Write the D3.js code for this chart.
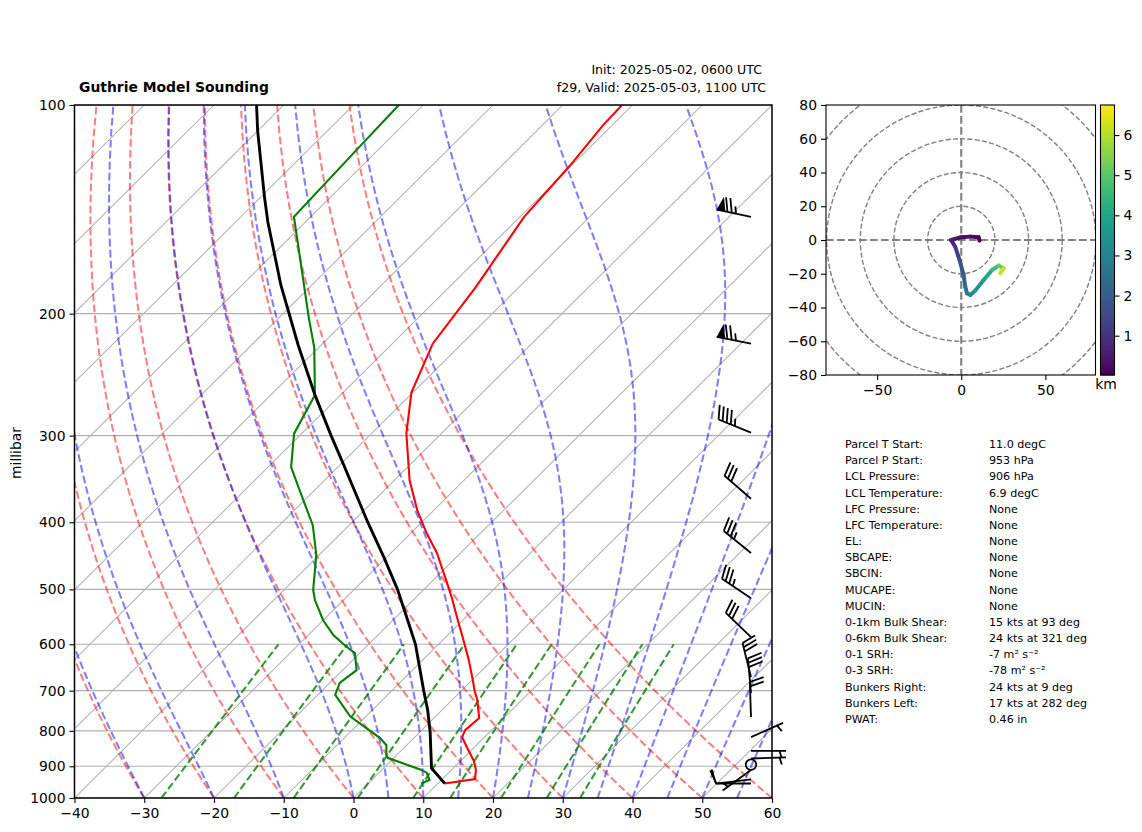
<!DOCTYPE html>
<html>
<head>
<meta charset="utf-8">
<script src="https://cdn.jsdelivr.net/npm/d3@7"></script>
<style>
  html, body { margin: 0; padding: 0; background: #fff; }
  svg { display: block; }
  text { font-family: "DejaVu Sans", sans-serif; fill: #000; }
</style>
</head>
<body>
<div id="chart"></div>
<script>
// sounding profile
var tempP = [953, 939, 911, 884, 847, 817, 798, 767, 722, 699, 676, 632, 592, 545, 515, 482, 443, 415, 385, 348, 298, 260, 221, 183, 145, 122.6, 107, 100];
var tempC = [11.0, 14.7, 13.5, 11.9, 9.1, 6.8, 6.2, 6.5, 3.6, 1.8, 0.1, -3.4, -7.0, -11.6, -14.7, -18.5, -23.4, -27.7, -32.3, -37.8, -45, -50.2, -54.2, -56.2, -59.4, -60.2, -61.3, -61.5];

var dewP = [953, 942, 920, 911, 875, 867, 839, 819, 763, 710, 682, 654, 618, 602, 582, 554, 518, 501, 446, 404, 366, 333, 298, 262, 224, 202, 145, 115.5, 100];
var dewC = [7.6, 8.3, 6.9, 5.7, -0.9, -1.5, -2.9, -4.9, -12.2, -17.5, -18.6, -18, -20.7, -23.3, -26.4, -30, -34.1, -35.8, -40.4, -45.2, -51.1, -56.7, -61.1, -63.7, -70.6, -75.9, -92.4, -93.1, -93.5];

var parcelP = [953, 906, 802, 746, 699, 600, 550, 500, 450, 400, 331, 300, 262, 222, 182, 147.5, 136, 109, 100];
var parcelC = [11.0, 6.9, 1.4, -2.1, -5.5, -13.3, -18.3, -23.8, -30.3, -37.75, -49.4, -55.5, -63.7, -73.3, -84.4, -95.4, -99.4, -110, -113.9];

// wind barbs: pressure, speed (kts), direction the wind comes from
var barbP = [145, 221, 297, 370, 443, 515, 586, 669, 706, 764, 817, 855, 877, 895, 911, 940, 953];
var barbSpeed = [75, 75, 45, 30, 35, 35, 30, 30, 30, 20, 5, 5, 5, 0, 5, 10, 10];
var barbDir = [282, 281, 292, 311, 309, 304, 314, 346, 355, 358, 66, 90, 88, 0, 234, 263, 270];

// hodograph
var hodoU = [10.9, 10.3, 5.4, -0.2, -4.6, -6.1, -3.6, -1, 1.4, 2.4, 3.4, 5.4, 8.3, 13.3, 18.3, 22.2, 25.2, 23.2];
var hodoV = [-0.4, 1.6, 2, 1.6, 0.4, 0, -4, -11.9, -20.7, -27.7, -31.6, -32.6, -30, -23.7, -17.8, -15.2, -16.8, -19.7];
var hodoKm = [0.02, 0.1, 0.2, 0.3, 0.4, 0.5, 1.0, 1.5, 2.0, 2.4, 2.7, 3.0, 3.3, 3.8, 4.3, 4.8, 5.6, 6.75];

// background lines
var isothermC = d3.range(-140, 70, 10);
var dryStartC = d3.range(-30, 70, 10);
var moistStartC = [-30, -20, -10, 0, 5, 10, 15, 20, 25, 30, 35, 40, 45, 50, 55];
var mixRatios = [0.0004, 0.001, 0.002, 0.004, 0.007, 0.01, 0.016, 0.024, 0.032];

var pressureTicks = [100, 200, 300, 400, 500, 600, 700, 800, 900, 1000];
var tempTicks = d3.range(-40, 70, 10);
var hodoXTicks = [-50, 0, 50];
var hodoYTicks = d3.range(-80, 100, 20);
var hodoRings = [20, 40, 60, 80, 100];
var kmTicks = [1, 2, 3, 4, 5, 6];

var statNames = ["Parcel T Start:", "Parcel P Start:", "LCL Pressure:", "LCL Temperature:", "LFC Pressure:", "LFC Temperature:", "EL:", "SBCAPE:", "SBCIN:", "MUCAPE:", "MUCIN:", "0-1km Bulk Shear:", "0-6km Bulk Shear:", "0-1 SRH:", "0-3 SRH:", "Bunkers Right:", "Bunkers Left:", "PWAT:"];
var statValues = ["11.0 degC", "953 hPa", "906 hPa", "6.9 degC", "None", "None", "None", "None", "None", "None", "None", "15 kts at 93 deg", "24 kts at 321 deg", "-7 m\u00B2 s\u207B\u00B2", "-78 m\u00B2 s\u207B\u00B2", "24 kts at 9 deg", "17 kts at 282 deg", "0.46 in"];

var svg = d3.select("#chart").append("svg")
    .attr("width", 1142)
    .attr("height", 832);

var left = 74.5, right = 772, top_ = 105, bottom = 798;
var skew = 1.0065;

var x = d3.scaleLinear().domain([-40, 60]).range([left, right]);
var y = d3.scaleLog().domain([1000, 100]).range([bottom, top_]);

// skewed position of a temperature at a pressure
function sx(t, p) { return x(t) + skew * (bottom - y(p)); }

var skewLine = d3.line().x(function(d) { return sx(d[0], d[1]); }).y(function(d) { return y(d[1]); });

svg.append("clipPath").attr("id", "clip").append("rect")
    .attr("x", left).attr("y", top_).attr("width", right - left).attr("height", bottom - top_);

var main = svg.append("g").attr("clip-path", "url(#clip)");

// isotherms and pressure grid
isothermC.forEach(function(t) {
    main.append("path").attr("d", skewLine([[t, 1000], [t, 100]]))
        .attr("fill", "none").attr("stroke", "#b0b0b0").attr("stroke-width", 1.05);
});
pressureTicks.forEach(function(p) {
    main.append("line").attr("x1", left).attr("x2", right).attr("y1", y(p)).attr("y2", y(p))
        .attr("stroke", "#b0b0b0").attr("stroke-width", 1.1);
});

var levels = d3.range(1000, 95, -10);

// dry adiabats
dryStartC.forEach(function(t0) {
    var pts = levels.map(function(p) { return [(t0 + 273.15) * Math.pow(p / 1000, 0.2857) - 273.15, p]; });
    main.append("path").attr("d", skewLine(pts))
        .attr("fill", "none").attr("stroke", "#ff0000").attr("stroke-opacity", 0.5)
        .attr("stroke-width", 2.08).attr("stroke-dasharray", "7.7,3.3");
});

function moistSlope(p, t) {
    var es = 6.112 * Math.exp(17.67 * (t - 273.15) / (t - 29.65));
    var rs = 0.622 * es / Math.max(p - es, 1);
    return (287.04 * t + 2.501e6 * rs) / (1005 + 2.501e6 * 2.501e6 * rs * 0.622 / (287.04 * t * t)) / p;
}

// moist adiabats, stepped up from 1000 hPa
moistStartC.forEach(function(t0) {
    var t = t0 + 273.15, pts = [[t0, 1000]];
    for (var i = 1; i < levels.length; i++) {
        var p = levels[i - 1], h = levels[i] - p;
        var k1 = moistSlope(p, t);
        var k2 = moistSlope(p + h / 2, t + h * k1 / 2);
        var k3 = moistSlope(p + h / 2, t + h * k2 / 2);
        var k4 = moistSlope(p + h, t + h * k3);
        t += h * (k1 + 2 * k2 + 2 * k3 + k4) / 6;
        pts.push([t - 273.15, levels[i]]);
    }
    main.append("path").attr("d", skewLine(pts))
        .attr("fill", "none").attr("stroke", "#0000ff").attr("stroke-opacity", 0.5)
        .attr("stroke-width", 2.08).attr("stroke-dasharray", "7.7,3.3");
});

// mixing ratio lines, 1000 to 600 hPa
mixRatios.forEach(function(w) {
    var pts = [1000, 900, 800, 700, 600].map(function(p) {
        var e = Math.log(p * w / (0.622 + w) / 6.112);
        return [243.5 * e / (17.67 - e), p];
    });
    main.append("path").attr("d", skewLine(pts))
        .attr("fill", "none").attr("stroke", "#008000").attr("stroke-opacity", 0.8)
        .attr("stroke-width", 2.08).attr("stroke-dasharray", "7.7,3.3");
});

// profiles
function profile(ps, ts, colour, w) {
    main.append("path").attr("d", skewLine(ps.map(function(p, i) { return [ts[i], p]; })))
        .attr("fill", "none").attr("stroke", colour).attr("stroke-width", w);
}
profile(tempP, tempC, "#ff0000", 2.1);
profile(dewP, dewC, "#008000", 2.1);
profile(parcelP, parcelC, "#000000", 2.9);

// frame and axes
svg.append("rect").attr("x", left).attr("y", top_).attr("width", right - left).attr("height", bottom - top_)
    .attr("fill", "none").attr("stroke", "#000").attr("stroke-width", 1.5);

function styleAxis(g) {
    g.select(".domain").remove();
    g.selectAll("line").attr("stroke", "#000").attr("stroke-width", 1.1);
    g.selectAll("text").attr("font-size", 13.9).attr("font-family", "DejaVu Sans");
}

svg.append("g").attr("transform", "translate(0," + bottom + ")")
    .call(d3.axisBottom(x).tickValues(tempTicks).tickSize(5).tickPadding(5))
    .call(styleAxis);
svg.append("g").attr("transform", "translate(" + left + ",0)")
    .call(d3.axisLeft(y).tickValues(pressureTicks).tickFormat(d3.format("d")).tickSize(5).tickPadding(4))
    .call(styleAxis);

svg.append("text").attr("transform", "translate(21,453) rotate(-90)")
    .attr("text-anchor", "middle").attr("font-size", 13.9).text("millibar");

// titles
svg.append("text").attr("x", 79).attr("y", 92).attr("font-size", 13.9).attr("font-weight", "bold")
    .text("Guthrie Model Sounding");
svg.append("text").attr("x", 762).attr("y", 74).attr("text-anchor", "end").attr("font-size", 12.6)
    .text("Init: 2025-05-02, 0600 UTC");
svg.append("text").attr("x", 766).attr("y", 92).attr("text-anchor", "end").attr("font-size", 12.6)
    .text("f29, Valid: 2025-05-03, 1100 UTC");

// wind barbs, sized like matplotlib's with a shaft of 35px
var barbX = 751, barbLen = 35;
var spacing = 0.125 * barbLen, flagH = 0.4 * barbLen, flagW = 0.25 * barbLen;
var barbs = svg.append("g");

barbP.forEach(function(p, i) {
    var speed = barbSpeed[i], by = y(p);
    if (speed === 0) {
        barbs.append("circle").attr("cx", barbX).attr("cy", by).attr("r", 5.25)
            .attr("fill", "none").attr("stroke", "#000").attr("stroke-width", 1.8);
        return;
    }
    var g = barbs.append("g")
        .attr("transform", "translate(" + barbX + "," + by + ") rotate(" + barbDir[i] + ")");
    g.append("line").attr("x1", 0).attr("y1", 0).attr("x2", 0).attr("y2", -barbLen)
        .attr("stroke", "#000").attr("stroke-width", 1.8);
    var pennants = Math.floor(speed / 50);
    var full = Math.floor((speed - pennants * 50) / 10);
    var half = (speed - pennants * 50 - full * 10) >= 5;
    var at = barbLen;
    d3.range(pennants).forEach(function() {
        g.append("path").attr("fill", "#000")
            .attr("d", d3.line()([[0, -at], [flagH, -(at - flagW / 2)], [0, -(at - flagW)]]));
        at -= flagW + spacing / 2;
    });
    d3.range(full).forEach(function() {
        g.append("line").attr("x1", 0).attr("y1", -at).attr("x2", flagH).attr("y2", -(at + flagW / 2))
            .attr("stroke", "#000").attr("stroke-width", 1.8);
        at -= spacing;
    });
    if (half) {
        if (pennants + full === 0) at -= 1.5 * spacing;
        g.append("line").attr("x1", 0).attr("y1", -at).attr("x2", flagH / 2).attr("y2", -(at + flagW / 4))
            .attr("stroke", "#000").attr("stroke-width", 1.8);
    }
});

// hodograph panel
var hx = d3.scaleLinear().domain([-80.4, 79.8]).range([826, 1095.5]);
var hy = d3.scaleLinear().domain([-80, 80]).range([375, 105]);

svg.append("clipPath").attr("id", "hodo-clip").append("rect")
    .attr("x", 826).attr("y", 105).attr("width", 269.5).attr("height", 270);
var hodo = svg.append("g").attr("clip-path", "url(#hodo-clip)");

hodoRings.forEach(function(r) {
    hodo.append("ellipse").attr("cx", hx(0)).attr("cy", hy(0))
        .attr("rx", hx(r) - hx(0)).attr("ry", hy(0) - hy(r))
        .attr("fill", "none").attr("stroke", "#808080").attr("stroke-width", 1.4).attr("stroke-dasharray", "5.1,2.2");
});
hodo.append("line").attr("x1", 826).attr("x2", 1095.5).attr("y1", hy(0)).attr("y2", hy(0))
    .attr("stroke", "#808080").attr("stroke-width", 2.1).attr("stroke-dasharray", "7.7,3.3");
hodo.append("line").attr("x1", hx(0)).attr("x2", hx(0)).attr("y1", 105).attr("y2", 375)
    .attr("stroke", "#808080").attr("stroke-width", 2.1).attr("stroke-dasharray", "7.7,3.3");

var kmDomain = [0.02, 6.75];
var kmColour = d3.scaleSequential(d3.interpolateViridis).domain(kmDomain);

hodoKm.slice(1).forEach(function(km, i) {
    hodo.append("line")
        .attr("x1", hx(hodoU[i])).attr("y1", hy(hodoV[i]))
        .attr("x2", hx(hodoU[i + 1])).attr("y2", hy(hodoV[i + 1]))
        .attr("stroke", kmColour((km + hodoKm[i]) / 2)).attr("stroke-width", 4)
        .attr("stroke-linecap", "round");
});

svg.append("rect").attr("x", 826).attr("y", 105).attr("width", 269.5).attr("height", 270)
    .attr("fill", "none").attr("stroke", "#000").attr("stroke-width", 1.1);
svg.append("g").attr("transform", "translate(0,375)")
    .call(d3.axisBottom(hx).tickValues(hodoXTicks).tickSize(5).tickPadding(5))
    .call(styleAxis);
svg.append("g").attr("transform", "translate(826,0)")
    .call(d3.axisLeft(hy).tickValues(hodoYTicks).tickSize(5).tickPadding(4))
    .call(styleAxis);

// colorbar
var kmY = d3.scaleLinear().domain(kmDomain).range([375, 105]);
var cbar = svg.append("g");
d3.range(105, 375).forEach(function(py) {
    cbar.append("rect").attr("x", 1100.5).attr("y", py).attr("width", 14).attr("height", 1.5)
        .attr("fill", kmColour(kmY.invert(py + 0.5)));
});
svg.append("rect").attr("x", 1100.5).attr("y", 105).attr("width", 14).attr("height", 270)
    .attr("fill", "none").attr("stroke", "#000").attr("stroke-width", 1.1);
svg.append("g").attr("transform", "translate(1114.5,0)")
    .call(d3.axisRight(kmY).tickValues(kmTicks).tickFormat(d3.format("d")).tickSize(5).tickPadding(4))
    .call(styleAxis);
svg.append("text").attr("x", 1106).attr("y", 389).attr("text-anchor", "middle").attr("font-size", 13.9).text("km");

// stats table
var rowY = d3.scaleLinear().domain([0, statNames.length - 1]).range([448, 723]);
statNames.forEach(function(name, i) {
    svg.append("text").attr("x", 845).attr("y", rowY(i)).attr("font-size", 11.1).text(name);
    svg.append("text").attr("x", 989).attr("y", rowY(i)).attr("font-size", 11.1).text(statValues[i]);
});
</script>
</body>
</html>
